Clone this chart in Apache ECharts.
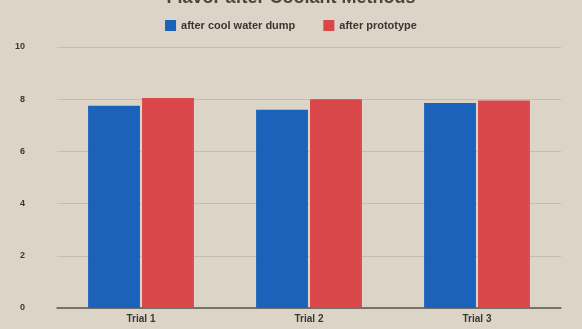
<!DOCTYPE html>
<html>
<head>
<meta charset="utf-8">
<script src="https://cdn.jsdelivr.net/npm/echarts@6/dist/echarts.min.js"></script>
<style>
  html, body { margin: 0; padding: 0; background: #dcd5c7; }
  #chart { width: 582px; height: 329px; }
</style>
</head>
<body>
<div id="chart"></div>
<script>
const categories = ['Trial 1', 'Trial 2', 'Trial 3']
const coolWater = [7.75, 7.6, 7.85]
const prototype = [8.05, 8.0, 7.95]
const yTicks = [0, 2, 4, 6, 8, 10]

const chart = echarts.init(document.getElementById('chart'))
chart.setOption({
  backgroundColor: '#dcd5c7',
  title: {
    text: 'Flavor after Coolant Methods',
    left: 'center',
    top: -16,
    textStyle: { fontSize: 18, fontWeight: 'bold', color: '#4a4540', fontFamily: 'Liberation Sans' }
  },
  legend: {
    top: 15,
    left: 'center',
    itemWidth: 11,
    itemHeight: 11,
    itemGap: 28,
    icon: 'rect',
    textStyle: { fontSize: 11, color: '#3a3632', fontWeight: 'bold', fontFamily: 'Liberation Sans' }
  },
  grid: { left: 57, right: 21, top: 47, bottom: 21 },
  xAxis: {
    type: 'category',
    data: categories,
    axisTick: { show: false },
    axisLine: { lineStyle: { color: '#5a5550', width: 1.5 } },
    axisLabel: { fontSize: 10, color: '#3a3632', fontWeight: 'bold', margin: 6, fontFamily: 'Liberation Sans' }
  },
  yAxis: {
    type: 'value',
    min: yTicks[0],
    max: yTicks[yTicks.length - 1],
    interval: 2,
    axisLine: { show: false },
    axisTick: { show: false },
    axisLabel: { fontSize: 9, color: '#3a3632', fontWeight: 'bold', margin: 32, fontFamily: 'Liberation Sans' },
    splitLine: { lineStyle: { color: '#c4bdb0', width: 1 } }
  },
  series: [
    {
      name: 'after cool water dump',
      type: 'bar',
      data: coolWater,
      itemStyle: { color: '#1b63ba' },
      barGap: '4%',
      barCategoryGap: '37%'
    },
    {
      name: 'after prototype',
      type: 'bar',
      data: prototype,
      itemStyle: { color: '#d9474b' }
    }
  ]
})
</script>
</body>
</html>
